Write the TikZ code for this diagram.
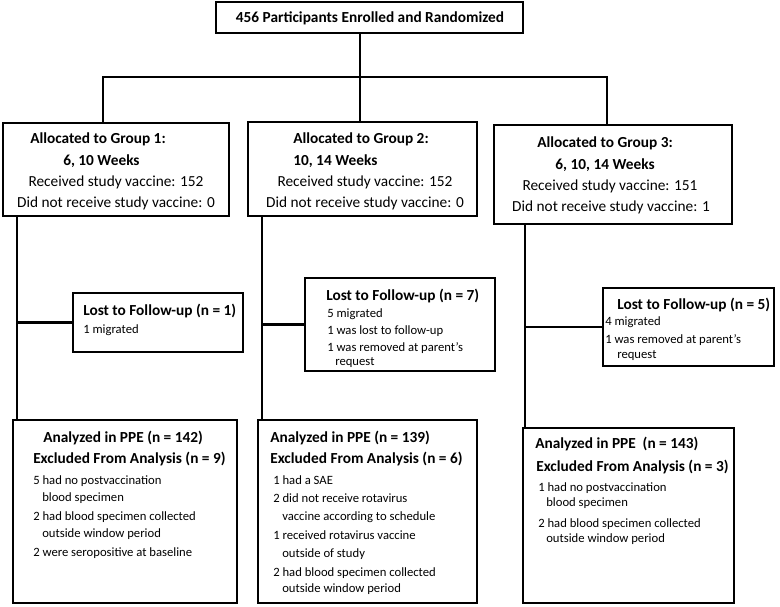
\documentclass[tikz,border=0pt]{standalone}
\usepackage{fontspec}
\setmainfont{Carlito}
\usetikzlibrary{fit}
\begin{document}
\begin{tikzpicture}[x=0.75pt,y=-0.75pt,
  box/.style={draw, line width=2pt, inner sep=0pt},
  ln/.style={line width=2pt},
  hd/.style={font=\fontsize{11.5}{13}\selectfont\bfseries, inner sep=0pt},
  tx/.style={font=\fontsize{11.5}{13}\selectfont, inner sep=0pt},
  sm/.style={font=\fontsize{9.5}{11}\selectfont, inner sep=0pt, anchor=base west},
  hl/.style={hd, anchor=base west},
]
\useasboundingbox (0,0) rectangle (780,606);
% boxes
\node[box, fit={(216,2) (523,33)}] (top) {};
\node[box, fit={(3,123) (229,216)}] (g1) {};
\node[box, fit={(248,122) (477,216)}] (g2) {};
\node[box, fit={(494,125) (732,224)}] (g3) {};
\node[box, fit={(73,293) (243,352)}] (l1) {};
\node[box, fit={(305,278) (495,371)}] (l2) {};
\node[box, fit={(603,288) (774,366)}] (l3) {};
\node[box, fit={(13,420) (237,603)}] (p1) {};
\node[box, fit={(258,420) (477,603)}] (p2) {};
\node[box, fit={(523,428) (734,603)}] (p3) {};
% top text
\node[hd, anchor=base] (t0) at (370,23) {456 Participants Enrolled and Randomized};
% group 1
\node[hl] (g1a) at (30,143) {Allocated to Group 1:};
\node[hl] (g1b) at (63,165) {6, 10 Weeks};
\node[tx, anchor=base] (g1c) at (116,186) {Received study vaccine: 152};
\node[tx, anchor=base] (g1d) at (116,207) {Did not receive study vaccine: 0};
% group 2
\node[hl] (g2a) at (293,143) {Allocated to Group 2:};
\node[hl] (g2b) at (293,165) {10, 14 Weeks};
\node[tx, anchor=base] (g2c) at (365,186) {Received study vaccine: 152};
\node[tx, anchor=base] (g2d) at (365,207) {Did not receive study vaccine: 0};
% group 3
\node[hd, anchor=base] (g3a) at (605,147) {Allocated to Group 3:};
\node[hd, anchor=base] (g3b) at (605,169) {6, 10, 14 Weeks};
\node[tx, anchor=base] (g3c) at (610,190) {Received study vaccine: 151};
\node[tx, anchor=base] (g3d) at (611,211) {Did not receive study vaccine: 1};
% lost 1
\node[hl] (l1a) at (83,315) {Lost to Follow-up (n = 1)};
\node[sm] (l1b) at (83,333) {1 migrated};
% lost 2
\node[hl] (l2a) at (326,300) {Lost to Follow-up (n = 7)};
\node[sm] (l2b) at (327,317) {5 migrated};
\node[sm] (l2c) at (327,334) {1 was lost to follow-up};
\node[sm] (l2d) at (327,351) {1 was removed at parent’s};
\node[sm] (l2e) at (335,365) {request};
% lost 3
\node[hl] (l3a) at (617,309) {Lost to Follow-up (n = 5)};
\node[sm] (l3b) at (605,325) {4 migrated};
\node[sm] (l3c) at (605,343) {1 was removed at parent’s};
\node[sm] (l3d) at (617,358) {request};
% PPE 1
\node[hl] (p1a) at (43,442) {Analyzed in PPE (n = 142)};
\node[hl] (p1b) at (33,463) {Excluded From Analysis (n = 9)};
\node[sm] (p1c) at (33,484) {5 had no postvaccination};
\node[sm] (p1d) at (42,501) {blood specimen};
\node[sm] (p1e) at (33,520) {2 had blood specimen collected};
\node[sm] (p1f) at (42,537) {outside window period};
\node[sm] (p1g) at (33,556) {2 were seropositive at baseline};
% PPE 2
\node[hl] (p2a) at (270,442) {Analyzed in PPE (n = 139)};
\node[hl] (p2b) at (270,463) {Excluded From Analysis (n = 6)};
\node[sm] (p2c) at (273,484) {1 had a SAE};
\node[sm] (p2d) at (273,502) {2 did not receive rotavirus};
\node[sm] (p2e) at (282,520) {vaccine according to schedule};
\node[sm] (p2f) at (273,539) {1 received rotavirus vaccine};
\node[sm] (p2g) at (282,557) {outside of study};
\node[sm] (p2h) at (273,576) {2 had blood specimen collected};
\node[sm] (p2i) at (282,592) {outside window period};
% PPE 3
\node[hl] (p3a) at (535,448) {Analyzed in PPE~~(n = 143)};
\node[hl] (p3b) at (536,471) {Excluded From Analysis (n = 3)};
\node[sm] (p3c) at (538,491) {1 had no postvaccination};
\node[sm] (p3d) at (546,506) {blood specimen};
\node[sm] (p3e) at (538,527) {2 had blood specimen collected};
\node[sm] (p3f) at (546,542) {outside window period};
% connectors
\coordinate (j) at (360,77);
\coordinate (h1) at (103,77);
\coordinate (h3) at (607,77);
\coordinate (v1) at (17,0);
\coordinate (v2) at (262,0);
\coordinate (v3) at (525,0);
\draw[ln] (top.south -| j) -- (j |- g2.north);
\draw[ln] (g1.north -| h1) -- (h1) -- (h3) -- (g3.north -| h3);
\draw[ln] (g1.south -| v1) -- (p1.north -| v1);
\draw[ln] (g2.south -| v2) -- (p2.north -| v2);
\draw[ln] (g3.south -| v3) -- (p3.north -| v3);
\draw[ln] (l1.west) -- (l1.west -| v1);
\draw[ln] (l2.west) -- (l2.west -| v2);
\draw[ln] (l3.west) -- (l3.west -| v3);
\end{tikzpicture}
\end{document}
